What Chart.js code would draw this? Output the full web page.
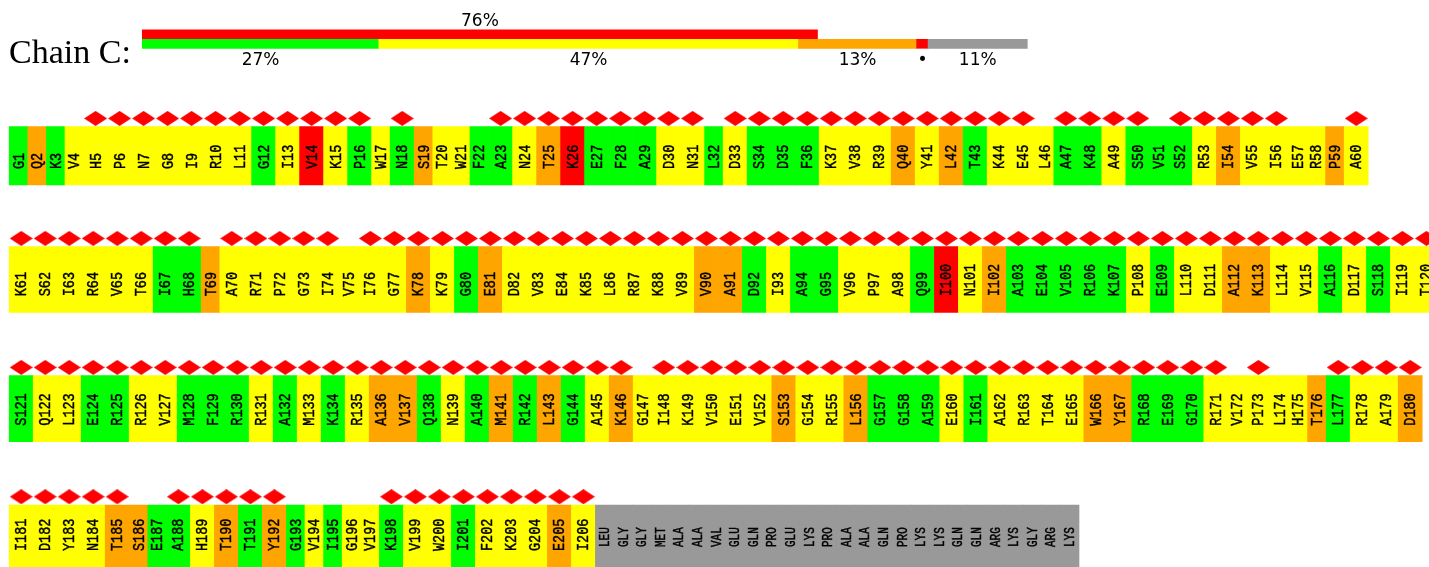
<!DOCTYPE html>
<html>
<head>
<meta charset="utf-8">
<title>Chain C residue quality</title>
<script src="https://cdn.jsdelivr.net/npm/chart.js@4.4.1/dist/chart.umd.min.js"></script>
<style>
  html, body { margin: 0; padding: 0; background: #fff; }
  #wrap { width: 1429px; height: 567px; }
</style>
</head>
<body>
<div id="wrap"><canvas id="chart"></canvas></div>
<script>
// Chain C - residue quality plot

const chainName = 'Chain C:';

// modelled sequence, one-letter codes, numbered from 1
const sequence =
    'GQKVHPNGIRLGIVKPWNSTWFANTKEFADNLDSDFKVRQYLTKELAKASVSRIVIERPA' +
    'KSIRVTIHTARPGIVIGKKGEDVEKLRKVVADIAGVPAQINIAEVRKPELDAKLVADSIT' +
    'SQLERRVMFRRAMKRAVQNAMRLGAKGIKVEVSGRLGGAEIARTEWYREGRVPLHTLRAD' +
    'IDYNTSEAHTTYGVIGVKVWIFKGEI';

// per residue: g = no outlier, y = one criterion, o = two, r = three or more
const quality =
    'gogyyyyyyy' + 'ygyrygygoy' + 'yggyorgggy' + 'ygygggyyyo' + 'yogyyyggyg' + 'ggyoyyyyoy' +
    'yyyyyyggoy' + 'yyyyyyyoyg' + 'oyyyyyyyyo' + 'ogyggyyygr' + 'yogggggygy' + 'yooyygygyy' +
    'gyyggyyggg' + 'ygygyoogyg' + 'ogogyoyyyy' + 'yyoyyogggy' + 'gyyyyooggg' + 'yyyyyogyyo' +
    'yyyyooggyo' + 'gogygyygyy' + 'gyyyoy';

// residues without a diamond mark
const noOutlier = [1, 2, 3, 4, 17, 19, 20, 21, 22, 32, 46, 51, 57, 58, 59,
    69, 75, 147, 172, 174, 175, 176, 186, 187, 193, 194, 195, 196, 197];

// residues in the sample that are not modelled
const unmodelled = ['LEU', 'GLY', 'GLY', 'MET', 'ALA', 'ALA', 'VAL', 'GLU', 'GLN', 'PRO',
    'GLU', 'LYS', 'PRO', 'ALA', 'ALA', 'GLN', 'PRO', 'LYS', 'LYS', 'GLN', 'GLN', 'ARG',
    'LYS', 'GLY', 'ARG', 'LYS'];

const shareOrder = ['g', 'y', 'o', 'r', 'u'];

// layout
const W = 1429, H = 567;
const perRow = 60;
const rowTop = [126.7, 246.7, 375.7, 505];
const rowHeight = [58.3, 65.6, 66, 62];
const rowLeft = 9.2;
const wideCell = 24, narrowCell = 18.6;
const barLeft = 142.3, barWidth = 885;
const topBar = { y: 34.3, h: 8.7 };
const shareBar = { y: 43.8, h: 9 };

const colors = { g: '#00ff00', y: '#ffff00', o: '#ffa500', r: '#ff0000', u: '#999999' };

// build residue list
const residues = [];
const total = sequence.length + unmodelled.length;
let cursor = 0;
for (let i = 0; i < total; i++) {
    const row = Math.floor(i / perRow);
    if (i % perRow === 0) cursor = rowLeft;
    const modelled = i < sequence.length;
    const outlier = modelled && !noOutlier.includes(i + 1);
    const w = outlier ? wideCell : narrowCell;
    residues.push({
        label: modelled ? sequence[i] + (i + 1) : unmodelled[i - sequence.length],
        q: modelled ? quality[i] : 'u',
        outlier, modelled, row,
        x0: cursor, x1: cursor + w
    });
    cursor += w;
}

const rows = [...new Set(residues.map(r => r.row))];
const cellSets = rows.map(r => {
    const cells = residues.filter(c => c.row === r);
    return {
        type: 'bar',
        order: 2,
        barThickness: rowHeight[r],
        data: cells.map(c => ({ x: [c.x0, c.x1], y: rowTop[r] + rowHeight[r] / 2 })),
        backgroundColor: cells.map(c => colors[c.q])
    };
});

// summary bars
const outlierCount = residues.filter(r => r.outlier).length;
const shareCounts = shareOrder.map(k => residues.filter(r => r.q === k).length);
const shareSegments = [];
let acc = 0;
shareCounts.forEach((n, i) => {
    shareSegments.push({ k: shareOrder[i], from: acc / total, to: (acc + n) / total, pct: Math.round(n / total * 100) });
    acc += n;
});
const outlierPct = Math.round(outlierCount / total * 100);

// diamond marker
const diamond = document.createElement('canvas');
diamond.width = 23;
diamond.height = 15;
const dctx = diamond.getContext('2d');
dctx.fillStyle = '#ff0000';
dctx.beginPath();
dctx.moveTo(11.5, 0);
dctx.lineTo(23, 7.5);
dctx.lineTo(11.5, 15);
dctx.lineTo(0, 7.5);
dctx.closePath();
dctx.fill();

const labelPlugin = {
    id: 'labels',
    afterDatasetsDraw(chart) {
        const ctx = chart.ctx;
        const xs = chart.scales.x, ys = chart.scales.y;
        ctx.save();
        ctx.fillStyle = '#000';
        ctx.strokeStyle = '#000';

        ctx.font = '34px "Liberation Serif", serif';
        ctx.textAlign = 'left';
        ctx.textBaseline = 'alphabetic';
        ctx.fillText(chainName, xs.getPixelForValue(9), ys.getPixelForValue(63.3));

        ctx.font = '17px "DejaVu Sans", sans-serif';
        ctx.textAlign = 'center';
        ctx.fillText(outlierPct + '%',
            xs.getPixelForValue(barLeft + barWidth * outlierCount / total / 2), ys.getPixelForValue(26));
        shareSegments.forEach(s => {
            const cx = xs.getPixelForValue(barLeft + barWidth * (s.from + s.to) / 2);
            ctx.fillText(s.pct < 2 ? '•' : s.pct + '%', cx, ys.getPixelForValue(65));
        });

        // residue labels, rotated and a little stretched across
        residues.forEach(c => {
            const cx = xs.getPixelForValue((c.x0 + c.x1) / 2);
            const bottom = rowTop[c.row] + rowHeight[c.row];
            const by = ys.getPixelForValue(bottom - (c.modelled ? 16 : 20));
            ctx.save();
            ctx.translate(cx, by);
            ctx.rotate(-Math.PI / 2);
            ctx.scale(1, 1.25);
            ctx.font = (c.modelled ? '13.5px' : '11px') + ' "Liberation Mono", monospace';
            ctx.textAlign = 'left';
            ctx.textBaseline = 'middle';
            ctx.lineWidth = 0.35;
            ctx.fillText(c.label, 0, 0.5);
            ctx.strokeText(c.label, 0, 0.5);
            ctx.restore();
        });
        ctx.restore();
    }
};

new Chart(document.getElementById('chart'), {
    type: 'bar',
    data: {
        datasets: [
            ...cellSets,
            {
                type: 'bar',
                order: 1,
                barThickness: topBar.h,
                data: [{ x: [barLeft, barLeft + barWidth * outlierCount / total], y: topBar.y }],
                backgroundColor: colors.r
            },
            {
                type: 'bar',
                order: 1,
                barThickness: shareBar.h,
                data: shareSegments.map(s => ({ x: [barLeft + barWidth * s.from, barLeft + barWidth * s.to], y: shareBar.y })),
                backgroundColor: shareSegments.map(s => colors[s.k])
            },
            {
                type: 'scatter',
                order: 0,
                data: residues.filter(c => c.outlier).map(c => ({ x: (c.x0 + c.x1) / 2, y: rowTop[c.row] - 8.3 })),
                pointStyle: diamond,
                radius: 7,
                hoverRadius: 0,
                borderWidth: 0
            }
        ]
    },
    options: {
        indexAxis: 'y',
        responsive: true,
        maintainAspectRatio: false,
        animation: false,
        events: [],
        layout: { padding: 0, autoPadding: false },
        datasets: {
            bar: { grouped: false, borderWidth: 0 }
        },
        plugins: {
            legend: { display: false },
            tooltip: { enabled: false }
        },
        scales: {
            x: { type: 'linear', min: 0, max: W, display: false, offset: false, grace: 0 },
            y: { type: 'linear', min: 0, max: H, reverse: true, display: false, offset: false, grace: 0 }
        }
    },
    plugins: [labelPlugin]
});
</script>
</body>
</html>
